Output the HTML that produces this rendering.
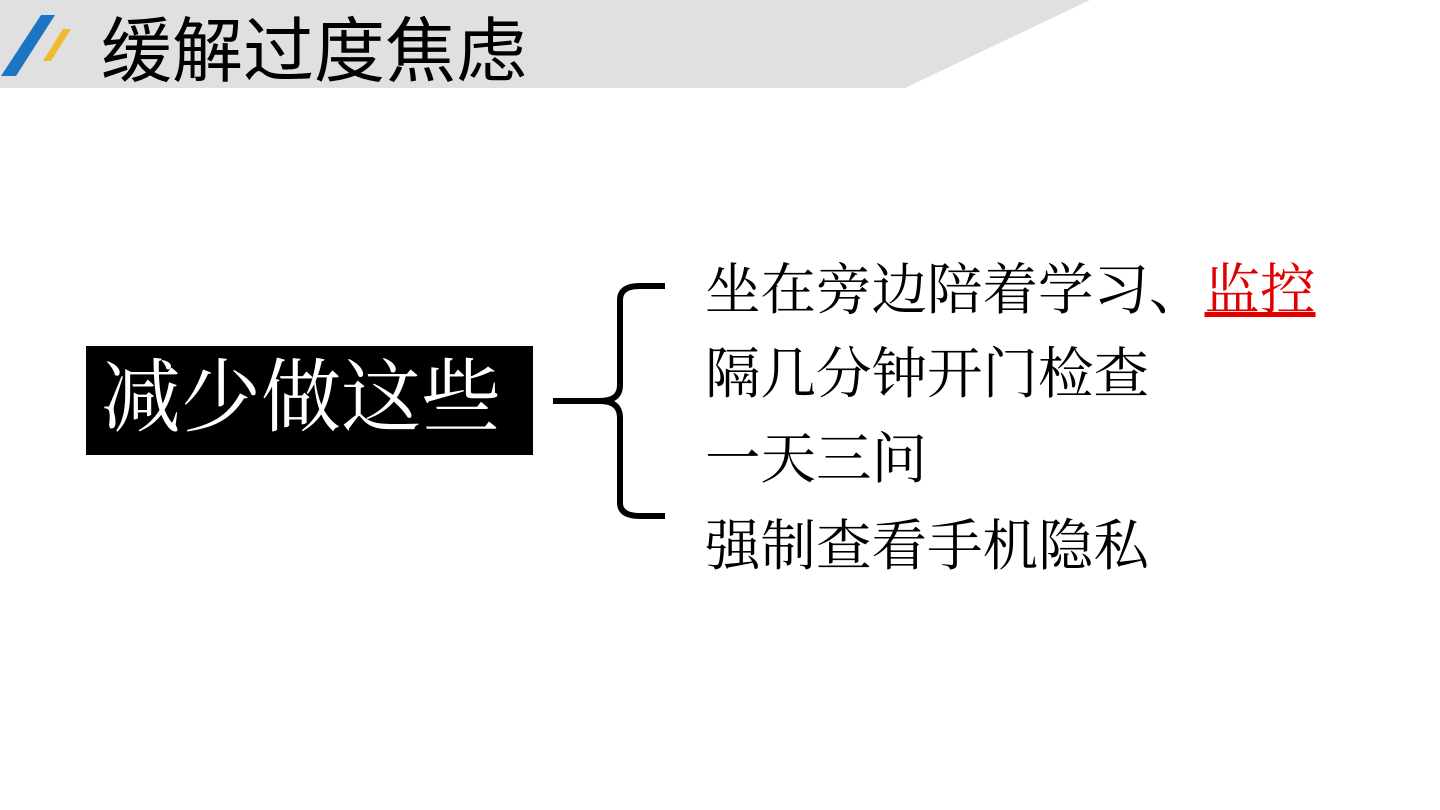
<!DOCTYPE html>
<html><head><meta charset="utf-8"><style>
body{margin:0;width:1440px;height:810px;background:#fff;position:relative;overflow:hidden}
.t{position:absolute;white-space:nowrap;line-height:1}
.s{font-family:"Liberation Serif","Noto Serif CJK SC",serif;font-size:55.5px;color:#000;left:705px}
</style></head><body>
<svg width="1440" height="810" style="position:absolute;left:0;top:0">
<polygon points="0,0 1090,0 905,88 0,88" fill="#e0e0e0"/>
<polygon points="41,15 55,15 16,76 1,76" fill="#1c74c4"/>
<polygon points="63,29 71,29 51,61 43,61" fill="#f0b92e"/>
<rect x="86" y="346" width="447" height="109" fill="#000"/>
<path d="M553,401 L600,401 Q620,401 620,385 L620,300 Q620,286 640,286 L665,286 M600,401 Q620,401 620,418 L620,503 Q620,516 640,516 L665,516" fill="none" stroke="#000" stroke-width="6"/>
</svg>
<div class="t" style="left:101px;top:17px;font-family:'Liberation Sans','Noto Sans CJK SC',sans-serif;font-size:71px;color:#000">缓解过度焦虑</div>
<div class="t" style="left:101px;top:359px;font-family:'Liberation Serif','Noto Serif CJK SC',serif;font-size:80px;color:#fff">减少做这些</div>
<div class="t s" style="top:264px">坐在旁边陪着学习、<span style="color:#e00000;text-decoration:underline">监控</span></div>
<div class="t s" style="top:348px">隔几分钟开门检查</div>
<div class="t s" style="top:433px">一天三问</div>
<div class="t s" style="top:520px">强制查看手机隐私</div>
</body></html>
